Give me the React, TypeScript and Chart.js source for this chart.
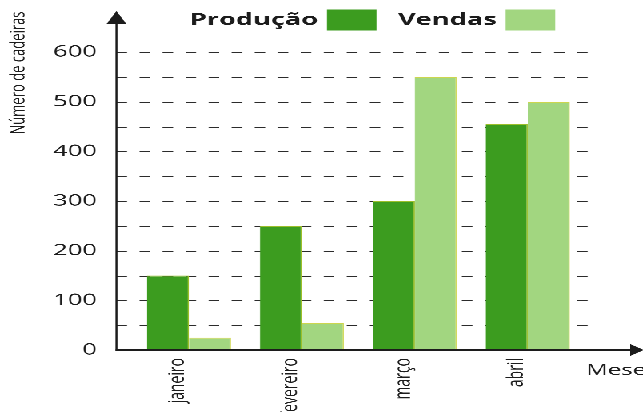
import React, { useEffect, useRef } from 'react';
import { Chart, registerables } from 'chart.js';

Chart.register(...registerables);

// ---- data ----
const months: string[] = ['janeiro', 'fevereiro', 'março', 'abril'];
const producao: number[] = [150, 250, 300, 455];
const vendas: number[] = [25, 55, 550, 500];
const seriesNames: string[] = ['Produção', 'Vendas'];
const yMin = 0;
const yMax = 600;
const yGridStep = 50;
const yLabelStep = 100;
const yTitle = 'Número de cadeiras';
const xTitle = 'Meses';

// ---- layout (logical canvas, later stretched horizontally) ----
const W = 402;
const H = 412;
const STRETCH = 643 / W;
const AXIS_X = 72.8;
const GRID_END = 375;
const PLOT_LEFT = 82.8;
const PLOT_RIGHT = 365.3;
const PLOT_TOP = 52;
const PLOT_BOTTOM = 350;

const COLOR_PROD = '#3c9c1f';
const COLOR_VEND = '#a2d680';
const INK = '#1c1c1c';
const FONT = '"Open Sans", "DejaVu Sans", sans-serif';

const decorPlugin = {
  id: 'decor',
  beforeDatasetsDraw(chart: any) {
    const ctx = chart.ctx;
    const y = chart.scales.y;
    ctx.save();
    ctx.strokeStyle = '#2b2b2b';
    ctx.lineWidth = 1;
    ctx.setLineDash([6.6, 7.8]);
    y.ticks.forEach((t: any) => {
      if (t.value === yMin) return;
      const py = Math.round(y.getPixelForValue(t.value)) + 0.5;
      ctx.beginPath();
      ctx.moveTo(AXIS_X, py);
      ctx.lineTo(GRID_END, py);
      ctx.stroke();
    });
    ctx.restore();
  },
  afterDatasetsDraw(chart: any) {
    const ctx = chart.ctx;
    const y = chart.scales.y;
    const y0 = y.getPixelForValue(yMin);
    ctx.save();
    ctx.setLineDash([]);
    ctx.strokeStyle = INK;
    ctx.fillStyle = INK;
    // y axis
    ctx.lineWidth = 1.3;
    ctx.beginPath();
    ctx.moveTo(AXIS_X, y0 + 1);
    ctx.lineTo(AXIS_X, 20);
    ctx.stroke();
    ctx.beginPath();
    ctx.moveTo(AXIS_X, 11);
    ctx.lineTo(AXIS_X - 6.2, 24);
    ctx.lineTo(AXIS_X + 6.2, 24);
    ctx.closePath();
    ctx.fill();
    // x axis
    ctx.lineWidth = 2;
    ctx.beginPath();
    ctx.moveTo(AXIS_X - 0.6, y0);
    ctx.lineTo(395, y0);
    ctx.stroke();
    ctx.beginPath();
    ctx.moveTo(W + 0.5, y0);
    ctx.lineTo(W - 8, y0 - 6);
    ctx.lineTo(W - 8, y0 + 6);
    ctx.closePath();
    ctx.fill();

    // y title
    ctx.save();
    ctx.translate(15.3, 73);
    ctx.rotate(-Math.PI / 2);
    ctx.font = `13px ${FONT}`;
    ctx.textAlign = 'center';
    ctx.textBaseline = 'alphabetic';
    ctx.fillText(yTitle, 0, 0);
    ctx.restore();

    // x title
    ctx.font = `15px ${FONT}`;
    ctx.textAlign = 'left';
    ctx.textBaseline = 'alphabetic';
    ctx.fillText(xTitle, 366.5, 375);

    // legend (text then swatch)
    ctx.font = `bold 17px ${FONT}`;
    ctx.textBaseline = 'alphabetic';
    let x = 118.5;
    chart.data.datasets.forEach((ds: any) => {
      ctx.fillStyle = INK;
      ctx.fillText(ds.label, x, 25);
      x += ctx.measureText(ds.label).width + 5.5;
      ctx.fillStyle = ds.backgroundColor;
      ctx.fillRect(x, 9.5, 31, 21);
      x += 31 + 13.5;
    });
    ctx.restore();
  },
};

export default function App() {
  const ref = useRef<HTMLCanvasElement | null>(null);

  useEffect(() => {
    if (!ref.current) return;
    const chart = new Chart(ref.current, {
      type: 'bar',
      data: {
        labels: months,
        datasets: [
          {
            label: seriesNames[0],
            data: producao,
            backgroundColor: COLOR_PROD,
            borderColor: '#9cbf2a',
            borderWidth: { top: 1, right: 0.8, left: 0, bottom: 0 },
            borderSkipped: false,
          },
          {
            label: seriesNames[1],
            data: vendas,
            backgroundColor: COLOR_VEND,
            borderColor: '#cdd64e',
            borderWidth: { top: 1, right: 0.8, left: 0, bottom: 0 },
            borderSkipped: false,
          },
        ],
      },
      options: {
        responsive: false,
        maintainAspectRatio: false,
        animation: false,
        devicePixelRatio: 3,
        layout: {
          padding: { left: 0, right: W - PLOT_RIGHT, top: PLOT_TOP, bottom: 0 },
        },
        datasets: {
          bar: { categoryPercentage: 0.743, barPercentage: 1 },
        },
        plugins: {
          legend: { display: false },
          tooltip: { enabled: false },
        },
        scales: {
          x: {
            type: 'category',
            grid: { display: false, drawTicks: false },
            border: { display: false },
            ticks: {
              autoSkip: false,
              minRotation: 90,
              maxRotation: 90,
              padding: 8,
              labelOffset: -7,
              color: INK,
              font: { family: FONT, size: 14 },
            },
            afterFit: (scale: any) => {
              scale.height = H - PLOT_BOTTOM;
            },
          },
          y: {
            min: yMin,
            max: yMax,
            grid: { display: false, drawTicks: false },
            border: { display: false },
            ticks: {
              stepSize: yGridStep,
              padding: PLOT_LEFT - 60.6,
              color: INK,
              font: { family: FONT, size: 16 },
              callback: (v: any) => (Number(v) % yLabelStep === 0 ? String(v) : ''),
            },
            afterFit: (scale: any) => {
              scale.width = PLOT_LEFT;
            },
          },
        },
      },
      plugins: [decorPlugin],
    });
    return () => chart.destroy();
  }, []);

  return (
    <div
      style={{
        position: 'absolute',
        left: 0,
        top: 0,
        width: W,
        height: H,
        overflow: 'hidden',
        background: '#fff',
        transform: `scaleX(${STRETCH})`,
        transformOrigin: '0 0',
      }}
    >
      <canvas ref={ref} width={W} height={H} style={{ display: 'block' }} />
    </div>
  );
}
